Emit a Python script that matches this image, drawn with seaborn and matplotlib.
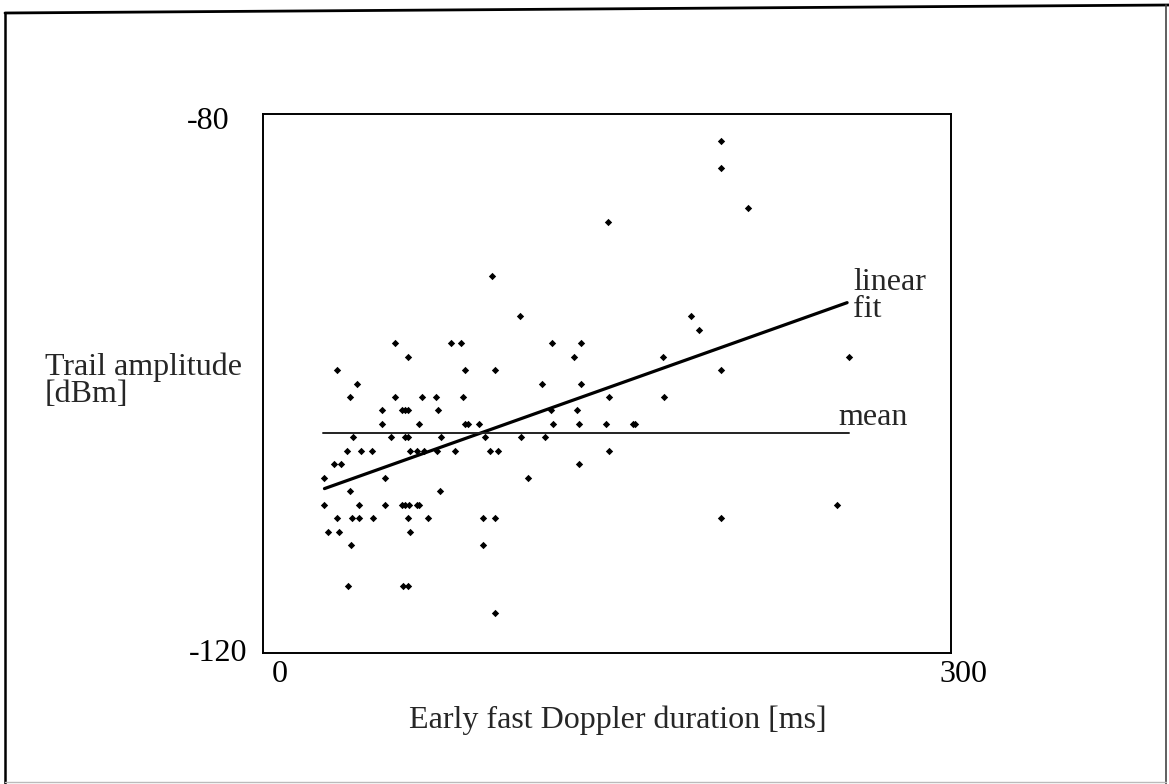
import numpy as np
import pandas as pd
import seaborn as sns
import matplotlib.pyplot as plt
from matplotlib.lines import Line2D
from matplotlib.transforms import ScaledTranslation

# early fast Doppler duration [ms], grouped by trail amplitude [dBm]
rows = {
    -82: [199.5],
    -84: [199.5],
    -87: [211.5],
    -88: [150.6],
    -92: [99.8],
    -95: [112.0, 186.8],
    -96: [190.0],
    -97: [57.4, 81.9, 86.2, 125.8, 138.6],
    -98: [63.2, 135.6, 174.6, 255.6],
    -99: [32.2, 88.2, 101.0, 199.6],
    -100: [41.1, 121.5, 138.6],
    -101: [38.1, 57.4, 69.5, 75.5, 87.0, 150.8, 174.8],
    -102: [52.1, 60.4, 61.8, 63.2, 76.5, 125.6, 136.8],
    -103: [52.1, 67.9, 88.2, 89.2, 94.0, 126.6, 137.9, 149.5, 161.5, 162.3],
    -104: [39.1, 55.8, 62.0, 63.2, 77.7, 97.0, 112.6, 123.0],
    -105: [36.8, 42.9, 47.5, 64.1, 67.0, 70.1, 75.9, 83.7, 98.8, 102.3, 150.8],
    -106: [30.8, 34.0, 137.6],
    -107: [26.4, 53.0, 115.6],
    -108: [38.1, 77.3],
    -109: [26.4, 41.7, 53.2, 60.4, 61.9, 63.6, 67.0, 68.0, 250.4],
    -110: [32.1, 38.9, 42.0, 48.1, 63.4, 71.8, 95.8, 101.2, 199.8],
    -111: [28.5, 33.1, 64.1],
    -112: [38.2, 95.8],
    -115: [36.9, 61.2, 63.4],
    -117: [101.2],
}
duration = [x for amp, xs in rows.items() for x in xs]
amplitude = [amp for amp, xs in rows.items() for x in xs]
df = pd.DataFrame({"duration": duration, "amplitude": amplitude})

fit_x = [26.8, 254.7]
fit_y = [-107.8, -94.0]
mean_x = [26.2, 255.5]
mean_level = -103.7

sns.set_style("white")
plt.rcParams["font.family"] = ["Liberation Serif", "DejaVu Serif"]
plt.rcParams["axes.unicode_minus"] = False

fig = plt.figure(figsize=(11.69, 7.84), dpi=100)
W, H = 1169, 784
ax = fig.add_axes([263 / W, 1 - 653 / H, 688 / W, 539 / H])

sns.scatterplot(data=df, x="duration", y="amplitude", ax=ax, marker="D",
                s=14, color="black", linewidth=0)
sns.lineplot(x=fit_x, y=fit_y, ax=ax, color="black", linewidth=2.3)
sns.lineplot(x=mean_x, y=[mean_level, mean_level], ax=ax, color="#222222",
             linewidth=1.4)

ax.set_xlim(0, 300)
ax.set_ylim(-120, -80)
ax.set_xticks([0, 300])
ax.set_yticks([-120, -80])
ax.tick_params(length=0, labelsize=23, colors="black")
ax.tick_params(axis="y", pad=11)
ax.tick_params(axis="x", pad=5)
for sp in ax.spines.values():
    sp.set_visible(True)
    sp.set_color("black")
    sp.set_linewidth(1.4)

# shift individual tick labels like the original
def shift(label, dx, dy):
    label.set_transform(label.get_transform() + ScaledTranslation(dx / 100, dy / 100, fig.dpi_scale_trans))

xl = ax.get_xticklabels()
shift(xl[0], 17, 0)
shift(xl[1], 12, 0)
yl = ax.get_yticklabels()
shift(yl[1], -18, -4)
shift(yl[0], 0, 3)

ax.set_xlabel("Early fast Doppler duration [ms]", fontsize=23, va="center")
ax.xaxis.set_label_coords(0.515, -0.124)
ax.set_ylabel("Trail amplitude\n[dBm]", fontsize=23, rotation=0, ha="left",
              va="center", linespacing=0.92, multialignment="left")
ax.yaxis.set_label_coords(-0.317, 0.505)

ax.text(257.3, -92.5, "linear", fontsize=23, va="center", ha="left")
ax.text(257.3, -94.5, "fit", fontsize=23, va="center", ha="left")
ax.text(250.7, -102.5, "mean", fontsize=23, va="center", ha="left")

# outer frame of the scanned figure
def fline(x0, y0, x1, y1, **kw):
    fig.add_artist(Line2D([x0 / W, x1 / W], [1 - y0 / H, 1 - y1 / H],
                          transform=fig.transFigure, **kw))

fline(5, 13, 1169, 5, color="black", linewidth=2.0)
fline(5, 13, 5, 784, color="black", linewidth=1.8)
fline(1166, 5, 1166, 784, color="#444444", linewidth=1.2)
fline(5, 782, 1166, 782, color="#bbbbbb", linewidth=1.0)

fig.savefig("out.png", dpi=100)
